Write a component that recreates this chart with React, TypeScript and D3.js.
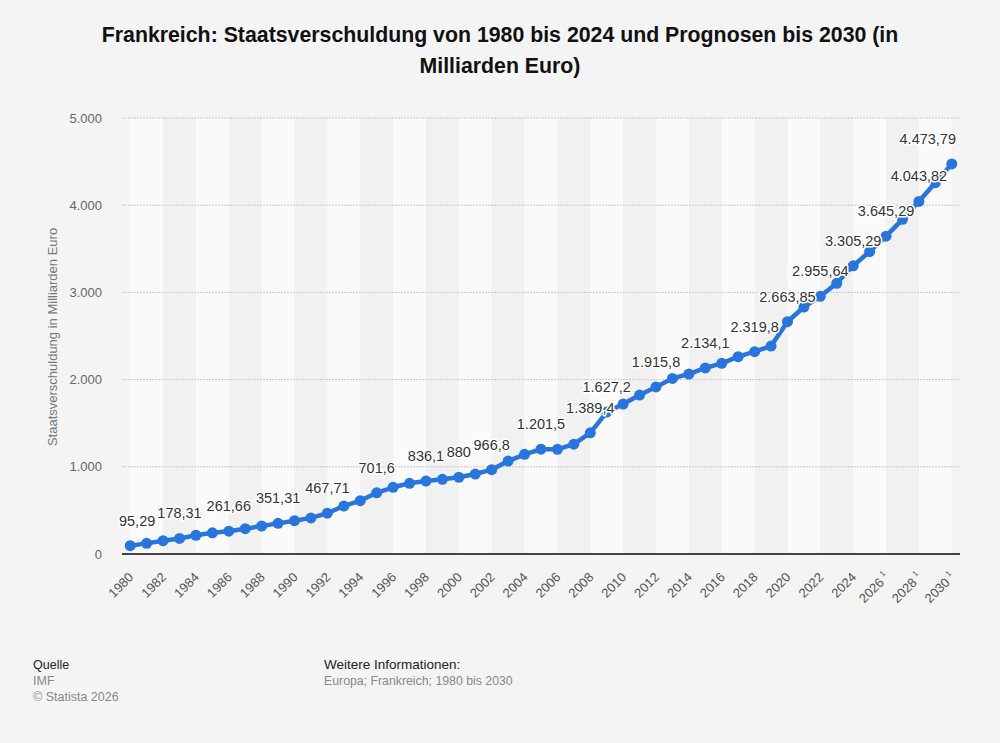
import React from "react";
import * as d3 from "d3";

const years: number[] = d3.range(1980, 2031);
const debt: number[] = [
  95.29, 122, 153, 178.31, 215, 243, 261.66, 290, 321, 351.31,
  382, 414, 467.71, 550, 611, 701.6, 765, 811, 836.1, 856,
  880, 917, 966.8, 1066, 1143, 1201.5, 1200, 1260, 1389.4, 1627.2,
  1720, 1823, 1915.8, 2014, 2064, 2134.1, 2187, 2263, 2319.8, 2385,
  2663.85, 2832, 2955.64, 3104, 3305.29, 3467, 3645.29, 3838, 4043.82, 4258,
  4473.79,
];
const labeledYears: number[] = [
  1980, 1983, 1986, 1989, 1992, 1995, 1998, 2000, 2002, 2005, 2008, 2009,
  2012, 2015, 2018, 2020, 2022, 2024, 2026, 2028, 2030,
];
const forecastYears: number[] = [2026, 2028, 2030];
const tickYears: number[] = d3.range(1980, 2031, 2);
const yTicks: number[] = [0, 1000, 2000, 3000, 4000, 5000];

const title1 = "Frankreich: Staatsverschuldung von 1980 bis 2024 und Prognosen bis 2030 (in";
const title2 = "Milliarden Euro)";
const yTitle = "Staatsverschuldung in Milliarden Euro";

const de = d3.formatLocale({ decimal: ",", thousands: ".", grouping: [3], currency: ["", " €"] });
const fmtLabel = de.format(",.2~f");
const fmtTick = de.format(",d");

const FONT = "'Liberation Sans', Arial, Helvetica, sans-serif";

let ctx: CanvasRenderingContext2D | null = null;
function measure(text: string, size: number): number {
  if (!ctx) ctx = document.createElement("canvas").getContext("2d");
  if (!ctx) return text.length * size * 0.55;
  ctx.font = `${size}px ${FONT}`;
  return ctx.measureText(text).width;
}

export default function App() {
  const W = 1000, H = 743;
  const left = 122, right = 960, top = 118, bottom = 554;
  const band = (right - left) / years.length;
  const x = d3.scaleLinear().domain([1980, 2030]).range([left + band / 2, right - band / 2]);
  const y = d3.scaleLinear().domain([0, 5000]).range([bottom, top]);
  const pts: [number, number][] = years.map((yr, i) => [x(yr), y(debt[i])]);
  const line = d3.line<[number, number]>().x((d) => d[0]).y((d) => d[1])(pts) || "";

  const stripes = d3.range(1980, 2030, 2);
  const LS = 14.5;

  return (
    <div style={{ position: "absolute", left: 0, top: 0 }}>
      <svg width={W} height={H} style={{ display: "block", fontFamily: FONT }}>
        <rect x={0} y={0} width={W} height={H} fill="#f4f4f4" />
        <text x={500} y={42} textAnchor="middle" fontSize={21.3} fontWeight="bold" fill="#111">{title1}</text>
        <text x={500} y={73} textAnchor="middle" fontSize={21.3} fontWeight="bold" fill="#111">{title2}</text>

        {stripes.map((s, i) => (
          <rect key={s} x={x(s)} y={top} width={x(s + 2) - x(s)} height={bottom - top}
            fill={i % 2 === 0 ? "#fafafa" : "#f1f1f1"} />
        ))}

        {yTicks.map((t) => (
          <g key={t}>
            {t > 0 && (
              <line x1={left} x2={right} y1={y(t)} y2={y(t)} stroke="#c8c8c8" strokeWidth={1} strokeDasharray="2,1" />
            )}
            <text x={102} y={y(t) + 4.5} textAnchor="end" fontSize={13} fill="#666">{fmtTick(t)}</text>
          </g>
        ))}

        <text transform={`translate(57,${337}) rotate(-90)`} textAnchor="middle" fontSize={13} fill="#777">{yTitle}</text>

        <line x1={left} x2={right} y1={bottom} y2={bottom} stroke="#444" strokeWidth={2} />

        {tickYears.map((t) => (
          <text key={t} transform={`translate(${x(t) + 4},${578}) rotate(-45)`} textAnchor="end" fontSize={13} fill="#555">
            {t}
            {forecastYears.includes(t) && (
              <tspan fontSize={8} dx={3} dy={-6}>1</tspan>
            )}
          </text>
        ))}

        <path d={line} fill="none" stroke="#2876dd" strokeWidth={4.5} strokeLinejoin="round" />
        {pts.map((p, i) => (
          <circle key={years[i]} cx={p[0]} cy={p[1]} r={5.5} fill="#2876dd" />
        ))}

        {labeledYears.map((yr) => {
          const i = years.indexOf(yr);
          const txt = fmtLabel(debt[i]);
          const w = measure(txt, LS);
          let cx = x(yr);
          cx = Math.max(left + w / 2 - 3, Math.min(right - w / 2 - 4, cx));
          return (
            <text key={yr} x={cx} y={y(debt[i]) - 20} textAnchor="middle" fontSize={LS} fill="#333"
              stroke="#fff" strokeWidth={3} strokeLinejoin="round" style={{ paintOrder: "stroke" }}>
              {txt}
            </text>
          );
        })}

        <text x={33} y={669} fontSize={12.5} fill="#222">Quelle</text>
        <text x={33} y={685} fontSize={12.5} fill="#888">IMF</text>
        <text x={33} y={701} fontSize={12.5} fill="#888">© Statista 2026</text>
        <text x={324} y={669} fontSize={13.5} fill="#222">Weitere Informationen:</text>
        <text x={324} y={685} fontSize={12.3} fill="#888">Europa; Frankreich; 1980 bis 2030</text>
      </svg>
    </div>
  );
}
